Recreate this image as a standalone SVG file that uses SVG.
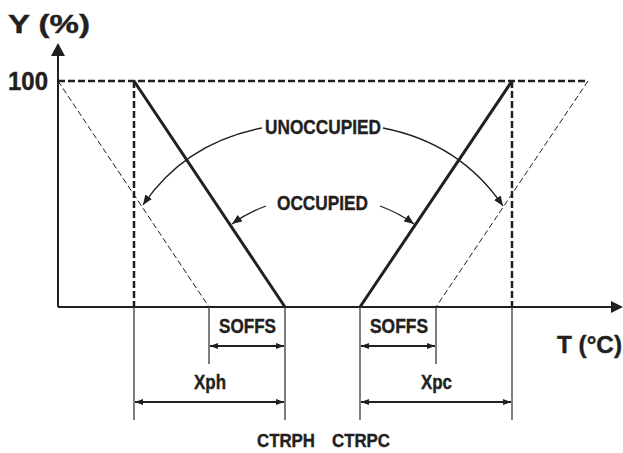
<svg xmlns="http://www.w3.org/2000/svg" width="623" height="453" viewBox="0 0 623 453">
<defs>
<style>
text{font-family:"Liberation Sans",Arial,sans-serif;font-weight:bold;fill:#231f20;stroke:#231f20;stroke-width:0.4}
.lbl{font-size:21px}
.big{font-size:25px}
.axis{stroke:#231f20;stroke-width:2;fill:none}
.thick{stroke:#231f20;stroke-width:3;fill:none}
.dashbold{stroke:#231f20;stroke-width:2.5;stroke-dasharray:7 3;fill:none}
.dashthin{stroke:#231f20;stroke-width:1;stroke-dasharray:6 3;fill:none}
.ext{stroke:#3a3a3a;stroke-width:1.3;fill:none}
.dim{stroke:#231f20;stroke-width:1.8;fill:none}
.callout{stroke:#231f20;stroke-width:1.3;fill:none}
</style>
<marker id="ah" viewBox="0 0 10 8" refX="10" refY="4" markerWidth="10" markerHeight="8" markerUnits="userSpaceOnUse" orient="auto-start-reverse">
<path d="M0,0 L10,4 L0,8 Z" fill="#231f20"/>
</marker>
<marker id="dh" viewBox="0 0 8 6" refX="8" refY="3" markerWidth="8" markerHeight="6" markerUnits="userSpaceOnUse" orient="auto-start-reverse">
<path d="M0,0 L8,3 L0,6 Z" fill="#231f20"/>
</marker>
</defs>
<g id="axes">
<line class="axis" x1="58" y1="307" x2="58" y2="55"/>
<path d="M58,43 L65,56 L51,56 Z" fill="#231f20"/>
<line class="axis" x1="58" y1="307" x2="612" y2="307"/>
<path d="M623,307 L611,301 L611,313 Z" fill="#231f20"/>
<text class="big" x="8" y="33" textLength="82" lengthAdjust="spacingAndGlyphs">Y (%)</text>
<text class="big" x="8" y="90" textLength="40" lengthAdjust="spacingAndGlyphs">100</text>
<text class="lbl" x="557" y="353" style="font-size:23px" textLength="65" lengthAdjust="spacingAndGlyphs">T (°C)</text>
</g>
<g id="guides">
<line class="dashbold" x1="58" y1="81" x2="588" y2="81"/>
<line class="dashbold" x1="134" y1="81" x2="134" y2="307"/>
<line class="dashbold" x1="512" y1="81" x2="512" y2="307"/>
</g>
<g id="unoccupied-curves">
<line class="dashthin" x1="58" y1="81" x2="209" y2="307"/>
<line class="dashthin" x1="588" y1="81" x2="436" y2="307"/>
</g>
<g id="occupied-curves">
<line class="thick" x1="134" y1="81" x2="285" y2="307"/>
<line class="thick" x1="512" y1="81" x2="360" y2="307"/>
</g>
<g id="labels">
<text class="lbl" x="265" y="134" textLength="116" lengthAdjust="spacingAndGlyphs">UNOCCUPIED</text>
<text class="lbl" x="277" y="210" textLength="91" lengthAdjust="spacingAndGlyphs">OCCUPIED</text>
</g>
<g id="connectors">
<path class="callout" d="M262,128 Q185,143 143,205" marker-end="url(#ah)"/>
<path class="callout" d="M383,128 Q460,143 503,206" marker-end="url(#ah)"/>
<path class="callout" d="M266,206 Q247,213 232,224" marker-end="url(#ah)"/>
<path class="callout" d="M380,206 Q399,213 414,224" marker-end="url(#ah)"/>
</g>
<g id="dimensions">
<line class="ext" x1="134" y1="307" x2="134" y2="420"/>
<line class="ext" x1="285" y1="307" x2="285" y2="420"/>
<line class="ext" x1="360" y1="307" x2="360" y2="420"/>
<line class="ext" x1="512" y1="307" x2="512" y2="420"/>
<line class="ext" x1="209" y1="307" x2="209" y2="364"/>
<line class="ext" x1="436" y1="307" x2="436" y2="364"/>
<line class="dim" x1="210" y1="346" x2="284" y2="346" marker-start="url(#dh)" marker-end="url(#dh)"/>
<line class="dim" x1="361" y1="346" x2="435" y2="346" marker-start="url(#dh)" marker-end="url(#dh)"/>
<line class="dim" x1="135" y1="402" x2="284" y2="402" marker-start="url(#dh)" marker-end="url(#dh)"/>
<line class="dim" x1="361" y1="402" x2="511" y2="402" marker-start="url(#dh)" marker-end="url(#dh)"/>
<text class="lbl" x="219" y="333" style="font-size:20px" textLength="57" lengthAdjust="spacingAndGlyphs">SOFFS</text>
<text class="lbl" x="370" y="333" style="font-size:20px" textLength="58" lengthAdjust="spacingAndGlyphs">SOFFS</text>
<text class="lbl" x="194" y="389" style="font-size:21px" textLength="32" lengthAdjust="spacingAndGlyphs">Xph</text>
<text class="lbl" x="421" y="389" style="font-size:21px" textLength="31" lengthAdjust="spacingAndGlyphs">Xpc</text>
<text class="lbl" x="257" y="447" style="font-size:19px" textLength="58" lengthAdjust="spacingAndGlyphs">CTRPH</text>
<text class="lbl" x="332" y="447" style="font-size:19px" textLength="58" lengthAdjust="spacingAndGlyphs">CTRPC</text>
</g>
</svg>
